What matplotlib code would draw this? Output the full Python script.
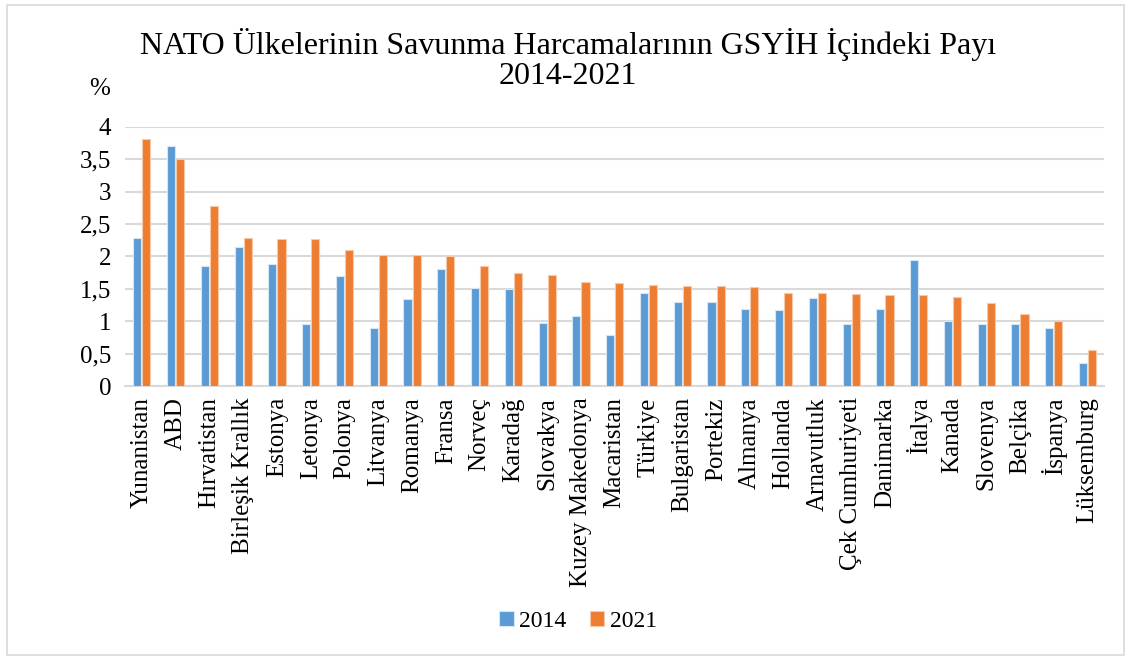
import numpy as np
import matplotlib
matplotlib.use("Agg")
import matplotlib.pyplot as plt
from matplotlib.patches import Rectangle

# =========================================================
# DATA
# =========================================================
countries = [
    "Yunanistan", "ABD", "Hırvatistan", "Birleşik Krallık", "Estonya",
    "Letonya", "Polonya", "Litvanya", "Romanya", "Fransa", "Norveç",
    "Karadağ", "Slovakya", "Kuzey Makedonya", "Macaristan", "Türkiye",
    "Bulgaristan", "Portekiz", "Almanya", "Hollanda", "Arnavutluk",
    "Çek Cumhuriyeti", "Danimarka", "İtalya", "Kanada", "Slovenya",
    "Belçika", "İspanya", "Lüksemburg",
]
share_2014 = [
    2.29, 3.70, 1.85, 2.14, 1.89, 0.95, 1.70, 0.89, 1.35, 1.80, 1.51,
    1.50, 0.98, 1.08, 0.78, 1.44, 1.30, 1.29, 1.19, 1.17, 1.36, 0.95,
    1.19, 1.94, 1.00, 0.96, 0.96, 0.89, 0.35,
]
share_2021 = [
    3.81, 3.51, 2.78, 2.28, 2.27, 2.27, 2.10, 2.03, 2.02, 2.00, 1.85,
    1.74, 1.72, 1.60, 1.59, 1.56, 1.55, 1.54, 1.53, 1.44, 1.43, 1.42,
    1.40, 1.40, 1.38, 1.28, 1.11, 1.01, 0.56,
]
yticks = [0, 0.5, 1, 1.5, 2, 2.5, 3, 3.5, 4]
ytick_labels = ["0", "0,5", "1", "1,5", "2", "2,5", "3", "3,5", "4"]

# =========================================================
# PLOT
# =========================================================
plt.rcParams["font.family"] = ["Liberation Serif", "DejaVu Serif"]

fig = plt.figure(figsize=(11.31, 6.61), dpi=100)
ax = fig.add_axes([0.1105, 0.416, 0.866, 0.392])

x = np.arange(len(countries))
w = 0.24
ax.bar(x - 0.135, share_2014, width=w, color="#5B9BD5",
       edgecolor="#d6e6f5", linewidth=0.8, label="2014", zorder=3)
ax.bar(x + 0.135, share_2021, width=w, color="#ED7D31",
       edgecolor="#f8c9a8", linewidth=0.8, label="2021", zorder=3)

ax.set_xlim(-0.5, len(countries) - 0.5)
ax.set_ylim(0, 4)
ax.set_yticks(yticks)
ax.set_yticklabels(ytick_labels, fontsize=18)
ax.set_xticks(x)
ax.set_xticklabels(countries, rotation=90, fontsize=18)
ax.tick_params(axis="y", length=0, pad=10)
ax.tick_params(axis="x", length=0, pad=8)

ax.grid(axis="y", color="#d9d9d9", linewidth=1.5, zorder=0)
for s in ["top", "right", "left"]:
    ax.spines[s].set_visible(False)
ax.spines["bottom"].set_color("#d9d9d9")
ax.spines["bottom"].set_linewidth(1.5)

fig.text(0.502, 0.932, "NATO Ülkelerinin Savunma Harcamalarının GSYİH İçindeki Payı",
         ha="center", va="center", fontsize=23)
fig.text(0.502, 0.885, "2014-2021", ha="center", va="center", fontsize=23)
fig.text(0.088, 0.866, "%", ha="center", va="center", fontsize=18)

ax.legend(loc="center", bbox_to_anchor=(0.463, -0.91), ncol=2, frameon=False,
          fontsize=17, handlelength=0.6, handleheight=0.6, handletextpad=0.25,
          columnspacing=1.0)

fig.patches.append(Rectangle((0.006, 0.009), 0.988, 0.983, transform=fig.transFigure,
                             fill=False, edgecolor="#d9d9d9", linewidth=1.2))

plt.savefig("out.png", dpi=100)
plt.close()
